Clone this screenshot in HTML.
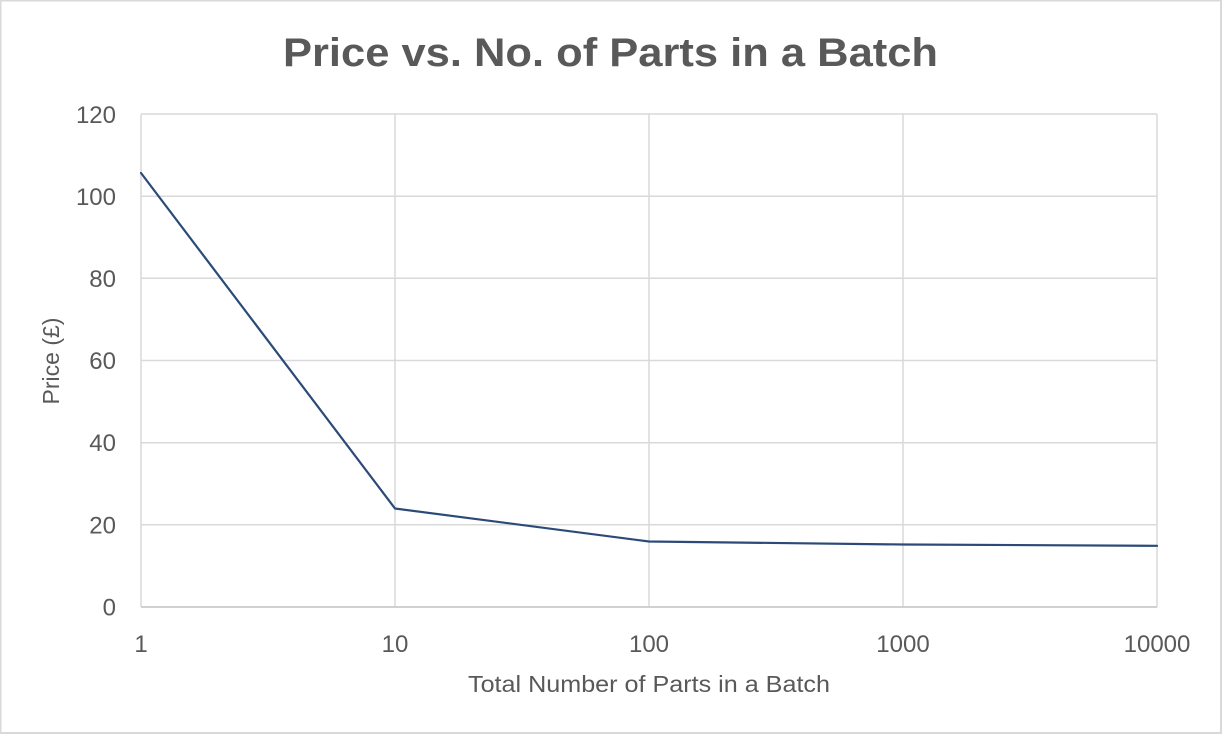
<!DOCTYPE html>
<html>
<head>
<meta charset="utf-8">
<style>
  html, body { margin: 0; padding: 0; background: #ffffff; }
  svg { display: block; }
  text { font-family: "Liberation Sans", "DejaVu Sans", sans-serif; fill: #595959; }
</style>
</head>
<body>
<svg width="1222" height="734" viewBox="0 0 1222 734" xmlns="http://www.w3.org/2000/svg">
  <rect x="0" y="0" width="1222" height="734" fill="#ffffff"/>
  <rect x="0.75" y="0.75" width="1220" height="732" fill="none" stroke="#d9d9d9" stroke-width="1.5"/>
  <line x1="1221" y1="0" x2="1221" y2="734" stroke="#d9d9d9" stroke-width="2"/>
  <line x1="0" y1="733" x2="1222" y2="733" stroke="#d9d9d9" stroke-width="2"/>

  <!-- Title -->
  <text x="610.5" y="66" font-size="40" font-weight="bold" text-anchor="middle" textLength="655" lengthAdjust="spacingAndGlyphs">Price vs. No. of Parts in a Batch</text>

  <!-- gridlines -->
  <g stroke="#d9d9d9" stroke-width="1.5">
    <line x1="141" y1="114" x2="1157" y2="114"/>
    <line x1="141" y1="196.2" x2="1157" y2="196.2"/>
    <line x1="141" y1="278.3" x2="1157" y2="278.3"/>
    <line x1="141" y1="360.5" x2="1157" y2="360.5"/>
    <line x1="141" y1="442.7" x2="1157" y2="442.7"/>
    <line x1="141" y1="524.8" x2="1157" y2="524.8"/>
    <line x1="141" y1="114" x2="141" y2="607"/>
    <line x1="395" y1="114" x2="395" y2="607"/>
    <line x1="649" y1="114" x2="649" y2="607"/>
    <line x1="903" y1="114" x2="903" y2="607"/>
    <line x1="1157" y1="114" x2="1157" y2="607"/>
  </g>
  <line x1="141" y1="607" x2="1157" y2="607" stroke="#d0d0d0" stroke-width="2"/>

  <!-- y tick labels -->
  <g font-size="24" text-anchor="end">
    <text x="116" y="123">120</text>
    <text x="116" y="205">100</text>
    <text x="116" y="287">80</text>
    <text x="116" y="369">60</text>
    <text x="116" y="451">40</text>
    <text x="116" y="533.5">20</text>
    <text x="116" y="615.5">0</text>
  </g>

  <!-- x tick labels -->
  <g font-size="24" text-anchor="middle">
    <text x="141" y="652">1</text>
    <text x="395" y="652">10</text>
    <text x="649" y="652">100</text>
    <text x="903" y="652">1000</text>
    <text x="1157" y="652">10000</text>
  </g>

  <!-- axis titles -->
  <text x="649" y="692" font-size="23" text-anchor="middle" textLength="362" lengthAdjust="spacingAndGlyphs">Total Number of Parts in a Batch</text>
  <text transform="translate(59,361) rotate(-90)" x="0" y="0" font-size="23" text-anchor="middle">Price (£)</text>

  <!-- series -->
  <polyline points="141,173 395,508.5 649,541.5 903,544.5 1157,545.8" fill="none" stroke="#2b4a78" stroke-width="2.2" stroke-linejoin="round" stroke-linecap="round"/>
</svg>
</body>
</html>
